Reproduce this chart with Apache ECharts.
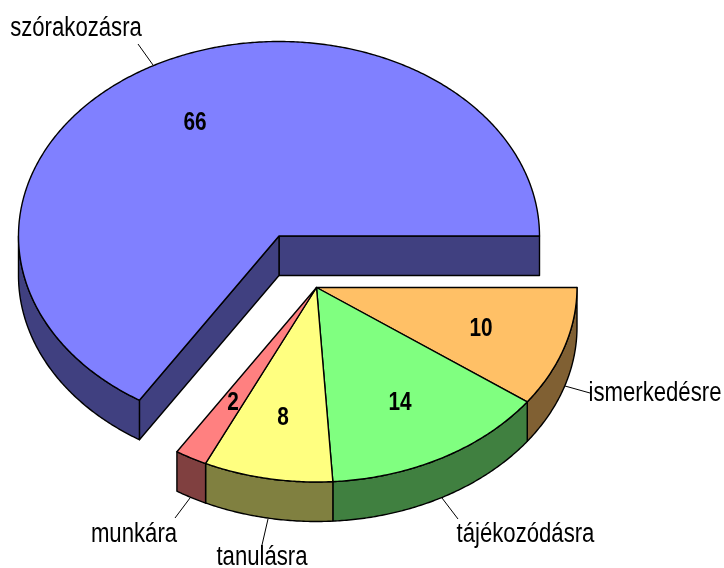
<!DOCTYPE html>
<html>
<head>
<meta charset="utf-8">
<style>html,body{margin:0;padding:0;background:#fff}#c{width:724px;height:568px}</style>
<script src="https://cdn.jsdelivr.net/npm/echarts@6/dist/echarts.min.js"></script>
</head>
<body>
<div id="c"></div>
<script>
// Data, clockwise on screen starting at due east
var categories = ['ismerkedésre', 'tájékozódásra', 'tanulásra', 'munkára', 'szórakozásra'];
var values = [10, 14, 8, 2, 66];

// Styling and layout, kept apart from the data
var topColors = ['#FFC066', '#80FF80', '#FFFF80', '#FF8080', '#8080FF'];
var sideColors = ['#806033', '#408040', '#808040', '#804040', '#404080'];
var RX = 260.5, RY = 194.5, DEPTH = 39.5;
var centers = [[316.5, 287.5], [316.5, 287.5], [316.5, 287.5], [316.5, 287.5], [279, 236]];
var valuePos = [[481, 328.5], [400, 402.5], [283, 417.5], [233, 402.5], [195, 122.5]];
var namePos = [[655, 394], [525.5, 535], [262, 558], [134, 535], [76, 29]];
var leaders = [
  [[565, 386], [590, 393]],
  [[442, 498], [458, 519]],
  [[268, 519], [262, 545]],
  [[190, 498], [175, 518]],
  [[138, 44], [153, 65]]
];
var FONT = '"Liberation Sans", Arial, sans-serif';
var total = values.reduce(function (a, b) { return a + b; }, 0);

function pt(c, deg, dy) {
  var r = deg * Math.PI / 180;
  return [c[0] + RX * Math.cos(r), c[1] + RY * Math.sin(r) + (dy || 0)];
}
function arc(c, a, b, dy) {
  var pts = [], n = Math.max(2, Math.ceil(Math.abs(b - a) * 2));
  for (var i = 0; i <= n; i++) pts.push(pt(c, a + (b - a) * i / n, dy));
  return pts;
}
function poly(points, fill) {
  return { type: 'polygon', shape: { points: points },
    style: { fill: fill, stroke: '#000', lineWidth: 1.4, lineJoin: 'round' } };
}
function sameGroup(i, j) {
  return centers[i][0] === centers[j][0] && centers[i][1] === centers[j][1];
}

function renderItem(params, api) {
  var i = params.dataIndex, n = values.length, before = 0;
  for (var k = 0; k < i; k++) before += values[k];
  var a1 = before / total * 360;
  var a2 = a1 + api.value(0) / total * 360;
  var c = centers[i], side = sideColors[i], top = topColors[i];
  var children = [];

  // Cut faces, only where the slice is pulled away from its neighbour
  var cutStart = a1 > 90 && a1 < 270 && !sameGroup(i, (i + n - 1) % n);
  var cutEnd = Math.cos(a2 * Math.PI / 180) > 0 && !sameGroup(i, (i + 1) % n);
  if (cutEnd) {
    var e = pt(c, a2);
    children.push(poly([c, e, [e[0], e[1] + DEPTH], [c[0], c[1] + DEPTH]], side));
  }
  if (cutStart) {
    var s = pt(c, a1);
    children.push(poly([c, s, [s[0], s[1] + DEPTH], [c[0], c[1] + DEPTH]], side));
  }
  // Rim, for the part of the arc that faces the viewer
  var r1 = Math.max(a1, 0), r2 = Math.min(a2, 180);
  if (r2 > r1) {
    children.push(poly(arc(c, r1, r2, 0).concat(arc(c, r2, r1, DEPTH)), side));
  }
  // Top face
  children.push(poly([c].concat(arc(c, a1, a2, 0)), top));

  // Leader line
  children.push({ type: 'line',
    shape: { x1: leaders[i][0][0], y1: leaders[i][0][1], x2: leaders[i][1][0], y2: leaders[i][1][1] },
    style: { stroke: '#000', lineWidth: 1 } });

  // Category label, condensed like the reference's narrow face
  children.push({ type: 'text', x: namePos[i][0], y: namePos[i][1], scaleX: 0.82, z2: 10,
    style: { text: categories[i], font: '27px ' + FONT, fill: '#000',
      textAlign: 'center', textVerticalAlign: 'middle' } });
  // Value label
  children.push({ type: 'text', x: valuePos[i][0], y: valuePos[i][1], scaleX: 0.8, z2: 10,
    style: { text: String(api.value(0)), font: 'bold 26px ' + FONT, fill: '#000',
      textAlign: 'center', textVerticalAlign: 'middle' } });

  return { type: 'group', children: children };
}

var chart = echarts.init(document.getElementById('c'), null, { renderer: 'canvas' });
chart.setOption({
  animation: false,
  backgroundColor: '#fff',
  series: [{
    type: 'custom',
    coordinateSystem: 'none',
    silent: true,
    renderItem: renderItem,
    data: values.map(function (v) { return [v]; })
  }]
});
</script>
</body>
</html>
